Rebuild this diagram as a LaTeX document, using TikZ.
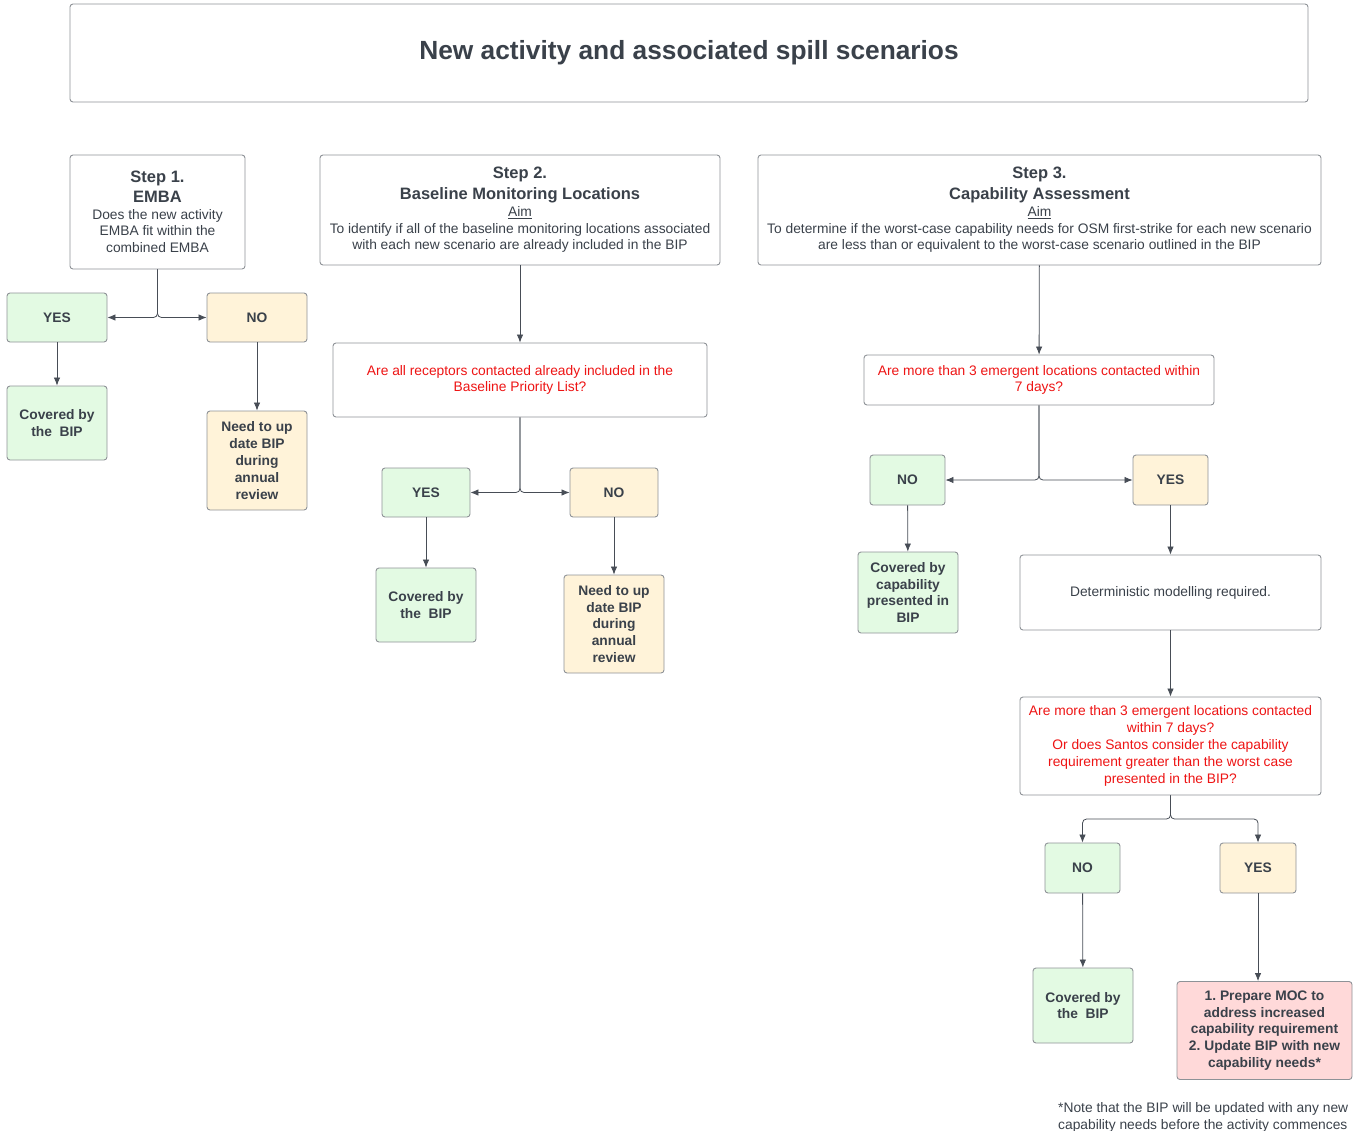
\documentclass[tikz,border=0pt]{standalone}
\usepackage{fontspec}
\setmainfont{Liberation Sans}
\usetikzlibrary{arrows.meta}
\frenchspacing
\definecolor{txt}{HTML}{3A414A}
\definecolor{qred}{HTML}{EE1414}
\definecolor{bord}{HTML}{8E9297}
\definecolor{lnk}{HTML}{474D56}
\definecolor{gfill}{HTML}{E3FAE3}
\definecolor{yfill}{HTML}{FFF3D9}
\definecolor{pfill}{HTML}{FFD9D9}
\newcommand{\bd}{\fontsize{13.8}{16.8}\selectfont\frenchspacing}
\newcommand{\hd}{\fontsize{16.5}{20}\selectfont\bfseries}
\tikzset{
  box/.style={draw=bord, line width=0.9pt, rounded corners=3pt, fill=white, inner sep=0pt, align=center, text=txt, font=\bd},
  gbox/.style={box, fill=gfill, font=\bd\bfseries},
  ybox/.style={box, fill=yfill, font=\bd\bfseries},
  pbox/.style={box, fill=pfill, font=\bd\bfseries},
  qbox/.style={box, text=qred},
  arr/.style={draw=lnk, line width=0.8pt, rounded corners=4pt, -{Latex[length=8pt,width=6.5pt]}},
}
\begin{document}
\begin{tikzpicture}[x=1pt,y=-1pt]
\useasboundingbox (0,0) rectangle (1356,1130);
% title
\node[box, minimum width=1238, minimum height=98, font=\fontsize{26.3}{30}\selectfont\bfseries] (title) at (689,53) {New activity and associated spill scenarios};
% Step 1
\node[box, minimum width=175, minimum height=114] (s1) at (157.5,212) {{\hd Step 1.}\\[3pt]{\hd EMBA}\\Does the new activity\\EMBA fit within the\\combined EMBA};
\node[gbox, minimum width=100, minimum height=49] (yes1) at (57,317.5) {YES};
\node[ybox, minimum width=100, minimum height=49] (no1) at (257,317.5) {NO};
\node[gbox, minimum width=100, minimum height=74] (cov1) at (57,423) {Covered by\\the\ \ BIP};
\node[ybox, minimum width=100, minimum height=99] (need1) at (257,460.5) {Need to up\\date BIP\\during\\annual\\review};
% Step 2
\node[box, minimum width=400, minimum height=110] (s2) at (520,210) {{\hd Step 2.}\\[4pt]{\hd Baseline Monitoring Locations}\\\underline{Aim}\\To identify if all of the baseline monitoring locations associated\\with each new scenario are already included in the BIP};
\node[qbox, minimum width=374, minimum height=74] (q2) at (520,380) {Are all receptors contacted already included in the\\Baseline Priority List?};
\node[gbox, minimum width=88, minimum height=49] (yes2) at (426,492.5) {YES};
\node[ybox, minimum width=88, minimum height=49] (no2) at (614,492.5) {NO};
\node[gbox, minimum width=100, minimum height=74] (cov2) at (426,605) {Covered by\\the\ \ BIP};
\node[ybox, minimum width=100, minimum height=98] (need2) at (614,624) {Need to up\\date BIP\\during\\annual\\review};
% Step 3
\node[box, minimum width=563, minimum height=110] (s3) at (1039.5,210) {{\hd Step 3.}\\[4pt]{\hd Capability Assessment}\\\underline{Aim}\\To determine if the worst-case capability needs for OSM first-strike for each new scenario\\are less than or equivalent to the worst-case scenario outlined in the BIP};
\node[qbox, minimum width=350, minimum height=50] (q3) at (1039,380) {Are more than 3 emergent locations contacted within\\7 days?};
\node[gbox, minimum width=75, minimum height=50] (no3) at (907.5,480) {NO};
\node[ybox, minimum width=75, minimum height=50] (yes3) at (1170.5,480) {YES};
\node[gbox, minimum width=100, minimum height=81] (cov3) at (908,592.5) {Covered by\\capability\\presented in\\BIP};
\node[box, minimum width=301, minimum height=75] (det) at (1170.5,592.5) {Deterministic modelling required.};
\node[qbox, minimum width=301, minimum height=98] (q4) at (1170.5,746) {Are more than 3 emergent locations contacted\\within 7 days?\\Or does Santos consider the capability\\requirement greater than the worst case\\presented in the BIP?};
\node[gbox, minimum width=75, minimum height=50] (no4) at (1082.5,868) {NO};
\node[ybox, minimum width=76, minimum height=50] (yes4) at (1258,868) {YES};
\node[gbox, minimum width=100, minimum height=75] (cov4) at (1083,1005.5) {Covered by\\the\ \ BIP};
\node[pbox, minimum width=175, minimum height=98] (prep) at (1264.5,1030.5) {1. Prepare MOC to\\address increased\\capability requirement\\2. Update BIP with new\\capability needs*};
\node[anchor=north west, align=left, inner sep=0pt, text=txt, font=\bd] (note) at (1058,1102) {*Note that the BIP will be updated with any new\\capability needs before the activity commences};
% connectors
\draw[arr] (s1.south) |- (yes1.east);
\draw[arr] (s1.south) |- (no1.west);
\draw[arr] (yes1) -- (cov1);
\draw[arr] (no1) -- (need1);
\draw[arr] (s2) -- (q2);
\draw[arr] (q2.south) |- (yes2.east);
\draw[arr] (q2.south) |- (no2.west);
\draw[arr] (yes2) -- (cov2);
\draw[arr] (no2) -- (need2);
\draw[arr] (s3) -- (q3);
\draw[arr] (q3.south) |- (no3.east);
\draw[arr] (q3.south) |- (yes3.west);
\draw[arr] (no3) -- (cov3);
\draw[arr] (yes3) -- (det);
\draw[arr] (det) -- (q4);
\coordinate (b4) at (1170.5,819);
\draw[arr] (q4.south) -- (b4) -| (no4.north);
\draw[arr] (q4.south) -- (b4) -| (yes4.north);
\draw[arr] (no4) -- (cov4);
\draw[arr] (yes4.south) -- (yes4.south |- prep.north);
\end{tikzpicture}
\end{document}
